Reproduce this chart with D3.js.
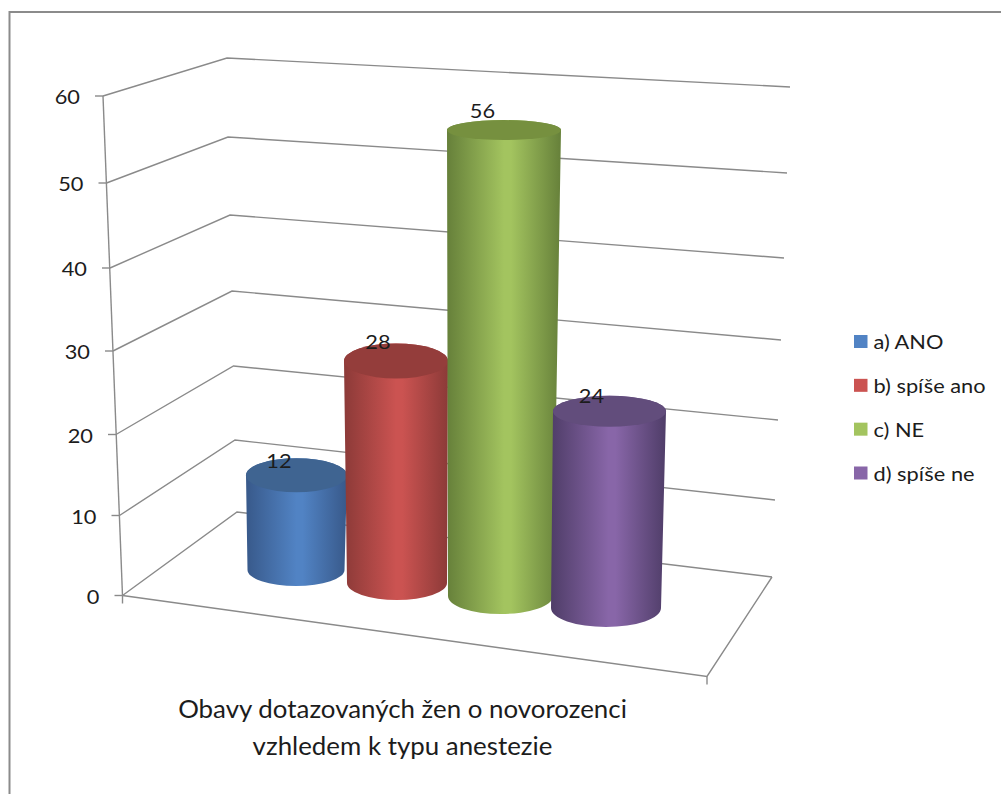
<!DOCTYPE html>
<html>
<head>
<meta charset="utf-8">
<script src="https://cdn.jsdelivr.net/npm/d3@7/dist/d3.min.js"></script>
<style>
  html, body { margin: 0; padding: 0; background: #fff; }
  svg { display: block; }
  text { font-family: Lato, "Open Sans", sans-serif; fill: #1c1c1c; }
</style>
</head>
<body>
<svg id="chart" width="1001" height="794"></svg>
<script>
// Survey answers
const categories = ["a) ANO", "b) spíše ano", "c) NE", "d) spíše ne"];
const values = [12, 28, 56, 24];
const tickValues = [0, 10, 20, 30, 40, 50, 60];
const titleLines = ["Obavy dotazovaných žen o novorozenci", "vzhledem k typu anestezie"];

// Colours per series: side highlight, side shade, cap
const lightColors = ["#5183c4", "#cb5351", "#a3c45f", "#8866a8"];
const darkColors = ["#38598a", "#8c3a38", "#66803a", "#4f3d68"];
const capColors = ["#3f6491", "#943d3b", "#76903f", "#624d7c"];

// Perspective of the box: where each value level lands on the three wall edges
const frontX = d3.scaleLinear().domain(tickValues).range([122.5, 119.5, 116, 113, 110, 106.5, 103]);
const frontY = d3.scaleLinear().domain(tickValues).range([595.5, 515.5, 434.5, 351, 268, 183, 96]);
const backX = d3.scaleLinear().domain(tickValues).range([237, 235, 233.5, 232, 230, 228, 227]);
const backY = d3.scaleLinear().domain(tickValues).range([512, 440, 366, 291, 215, 137, 58]);
const rightX = d3.scaleLinear().domain(tickValues).range([772, 775, 778, 781, 784, 787, 790]);
const rightY = d3.scaleLinear().domain(tickValues).range([577, 500, 420, 340, 258, 173, 87]);

// Floor placement and cap shape of the cylinders, nearer to the viewer going right
const baseCx = [296, 397, 500.5, 606];
const baseCy = [570, 583, 596, 608];
const baseRx = [48.5, 50, 52.5, 55];
const baseRy = [16, 17, 18, 19];
const unitPx = [7.9, 7.93, 8.32, 8.2];
const topCx = [296.5, 396, 504, 609.5];
const topRx = [50.5, 52, 57, 56.5];
const topRy = [17, 17.5, 10, 15.5];
const labelDx = [-17.5, -18, -21.5, -18];
const labelDy = [-7, -12, -12, -8];

// The lettering runs slightly wider than the font's own proportions
const labelSize = 20;
const labelStretch = 1.09;
const stretched = (x, y, sx) => `translate(${x},${y}) scale(${sx},1)`;

const svg = d3.select("#chart");
const defs = svg.append("defs");

// Chart frame, open towards the right and bottom
svg.append("path")
  .attr("d", "M1001,12H9.5V794")
  .attr("fill", "none").attr("stroke", "#8b8b8b").attr("stroke-width", 2);

// Walls, floor and grid
const grid = svg.append("g").attr("fill", "none").attr("stroke", "#8a8a8a").attr("stroke-width", 1.4);
const gridLine = d3.line();
grid.selectAll("path.level").data(tickValues).join("path")
  .attr("class", "level")
  .attr("d", v => gridLine([[frontX(v), frontY(v)], [backX(v), backY(v)], [rightX(v), rightY(v)]]));
grid.append("path").attr("d", gridLine([[frontX(60), frontY(60)], [frontX(0), frontY(0)]]));
grid.selectAll("path.tick").data(tickValues).join("path")
  .attr("class", "tick")
  .attr("d", v => gridLine([[frontX(v) - 8, frontY(v)], [frontX(v), frontY(v)]]));

// Floor front and side edges with their end ticks
const floorLeft = [frontX(0), frontY(0)];
const floorFront = [707, 676.5];
grid.append("path").attr("d", gridLine([floorLeft, floorFront, [rightX(0), rightY(0)]]));
grid.append("path").attr("d", gridLine([floorLeft, [floorLeft[0], floorLeft[1] + 8]]));
grid.append("path").attr("d", gridLine([floorFront, [floorFront[0], floorFront[1] + 8]]));

// Value axis labels
svg.append("g").selectAll("text").data(tickValues).join("text")
  .attr("transform", v => stretched(frontX(v) - 23, frontY(v) + 8, labelStretch))
  .attr("text-anchor", "end")
  .attr("font-size", labelSize)
  .text(d => d);

// Cylinders, drawn left to right so each one overlaps the previous
const bars = svg.append("g");
values.forEach((value, i) => {
  const gradId = "shade" + i;
  const grad = defs.append("linearGradient").attr("id", gradId)
    .attr("x1", "0").attr("x2", "1").attr("y1", "0").attr("y2", "0");
  [[0, darkColors[i]], [0.5, lightColors[i]], [0.56, lightColors[i]], [1, darkColors[i]]]
    .forEach(([o, c]) => grad.append("stop").attr("offset", o).attr("stop-color", c));

  const height = d3.scaleLinear().domain([0, 60]).range([baseCy[i], baseCy[i] - 60 * unitPx[i]]);
  const yTop = height(value);
  const yBase = height(0);
  const bx = baseCx[i], brx = baseRx[i], bry = baseRy[i];
  const tx = topCx[i], trx = topRx[i], capRy = topRy[i];

  bars.append("path")
    .attr("fill", `url(#${gradId})`)
    .attr("d", `M${tx - trx},${yTop}L${bx - brx},${yBase}` +
               `A${brx},${bry} 0 0 0 ${bx + brx},${yBase}` +
               `L${tx + trx},${yTop}` +
               `A${trx},${capRy} 0 0 0 ${tx - trx},${yTop}Z`);
  bars.append("ellipse")
    .attr("cx", tx).attr("cy", yTop).attr("rx", trx).attr("ry", capRy)
    .attr("fill", capColors[i]);
});

// Value labels sit above and left of each cap
svg.append("g").selectAll("text").data(values).join("text")
  .attr("transform", (d, i) => stretched(topCx[i] + labelDx[i], baseCy[i] - d * unitPx[i] + labelDy[i], labelStretch))
  .attr("text-anchor", "middle")
  .attr("font-size", labelSize)
  .text(d => d);

// Legend
const legendY = d3.scalePoint().domain(categories).range([341.5, 473]);
const legend = svg.append("g").selectAll("g").data(categories).join("g")
  .attr("transform", d => `translate(854,${legendY(d)})`);
legend.append("rect")
  .attr("x", 0).attr("y", -6.5).attr("width", 13.5).attr("height", 13)
  .attr("fill", (d, i) => lightColors[i]);
legend.append("text")
  .attr("transform", stretched(19.5, 7.5, labelStretch))
  .attr("font-size", labelSize)
  .text(d => d);

// Category axis title
svg.append("g").selectAll("text").data(titleLines).join("text")
  .attr("transform", (d, i) => stretched(402.5, 718 + i * 37, 1.035))
  .attr("text-anchor", "middle")
  .attr("font-size", 25)
  .text(d => d);
</script>
</body>
</html>
